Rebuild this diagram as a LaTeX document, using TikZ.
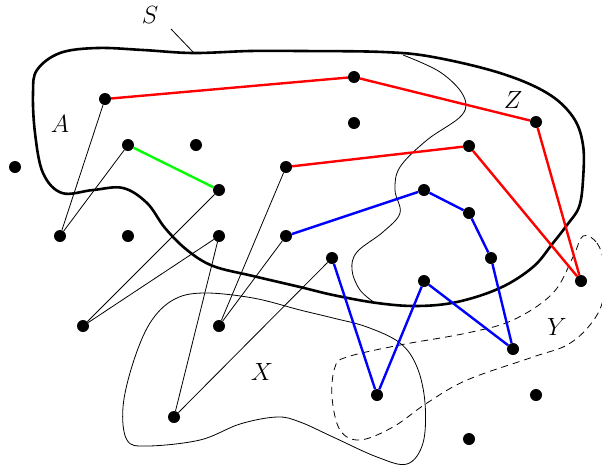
\documentclass[tikz,border=0pt]{standalone}
\begin{document}
\begin{tikzpicture}[x=1pt,y=-1pt,
  dot/.style={circle,fill=black,inner sep=0pt,minimum size=12pt},
  thin/.style={line width=0.8pt},
  redl/.style={line width=2.4pt,red},
  bluel/.style={line width=2.4pt,blue},
  greenl/.style={line width=2.4pt,green},
  lab/.style={font=\fontsize{25}{30}\selectfont,inner sep=0pt}]
\useasboundingbox (0,0) rectangle (602,469);
% region S
\draw[line width=2.6pt] plot[smooth cycle,tension=0.6] coordinates {
(193,53) (250,51) (300,51) (383,52) (433,57) (500,73) (547,93) (573,117)
(583,145) (583,180) (579,207) (567,225) (553,243) (533,267) (500,288) (457,302)
(417,306) (377,303) (333,295) (300,287) (253,276) (213,266) (187,250)
(165,228) (147,203) (123,188) (93,190) (62,193) (43,173) (35,133) (33,93)
(37,70) (60,53) (97,48) (143,50)};
% divider
\draw[thin] plot[smooth,tension=0.6] coordinates {
(403,55) (440,72) (463,95) (462,115) (427,140) (400,167) (395,190)
(400,213) (383,232) (357,252) (352,270) (360,290) (375,303)};
% region X
\draw[thin] plot[smooth cycle,tension=0.6] coordinates {
(203,293) (173,300) (150,323) (133,363) (123,407) (127,440) (147,446)
(200,440) (240,424) (277,417) (300,422) (333,437) (377,457) (407,464)
(423,443) (425,403) (417,367) (400,343) (367,327) (333,318) (300,310) (253,298)};
% region Y
\draw[thin,dashed,dash pattern=on 7pt off 5pt] plot[smooth cycle,tension=0.6] coordinates {
(583,236) (597,243) (604,265) (603,300) (590,325) (567,345) (533,357)
(467,380) (427,403) (393,427) (360,440) (340,430) (332,397) (335,367)
(347,357) (400,345) (467,333) (513,320) (553,293) (573,257)};
% labels
\node[lab] (S) at (150,15) {$S$};
\coordinate (Sa) at (171,29);
\coordinate (Sb) at (194,53);
\draw[thin] (Sa) -- (Sb);
\node[lab] (A) at (60,124) {$A$};
\node[lab] (Z) at (513,100) {$Z$};
\node[lab] (Y) at (557,327) {$Y$};
\node[lab] (X) at (262,372) {$X$};
% dots
\node[dot] (a1) at (105,99) {};
\node[dot] (n1) at (354,77) {};
\node[dot] (z1) at (536,122) {};
\node[dot] (c1) at (128,145) {};
\node[dot] (d1) at (196,145) {};
\node[dot] (e1) at (15,167) {};
\node[dot] (c2) at (219,190) {};
\node[dot] (n2) at (354,123) {};
\node[dot] (r1) at (286,167) {};
\node[dot] (r2) at (469,146) {};
\node[dot] (b1) at (424,190) {};
\node[dot] (b2) at (469,213) {};
\node[dot] (b3) at (491,258) {};
\node[dot] (b4) at (513,349) {};
\node[dot] (b0) at (286,236) {};
\node[dot] (l1) at (60,236) {};
\node[dot] (l2) at (128,236) {};
\node[dot] (l3) at (219,236) {};
\node[dot] (q1) at (332,258) {};
\node[dot] (w1) at (424,281) {};
\node[dot] (v1) at (377,395) {};
\node[dot] (y1) at (581,281) {};
\node[dot] (p1) at (83,326) {};
\node[dot] (p2) at (219,326) {};
\node[dot] (x1) at (174,417) {};
\node[dot] (g1) at (536,395) {};
\node[dot] (g2) at (469,439) {};
% edges
\draw[redl] (a1) -- (n1) -- (z1) -- (y1);
\draw[redl] (r1) -- (r2) -- (y1);
\draw[greenl] (c1) -- (c2);
\draw[bluel] (b0) -- (b1) -- (b2) -- (b3) -- (b4) -- (w1) -- (v1) -- (q1);
\draw[thin] (l1) -- (a1);
\draw[thin] (l1) -- (c1);
\draw[thin] (p1) -- (c2);
\draw[thin] (p1) -- (l3);
\draw[thin] (x1) -- (l3);
\draw[thin] (x1) -- (q1);
\draw[thin] (p2) -- (r1);
\draw[thin] (p2) -- (b0);
\end{tikzpicture}
\end{document}
